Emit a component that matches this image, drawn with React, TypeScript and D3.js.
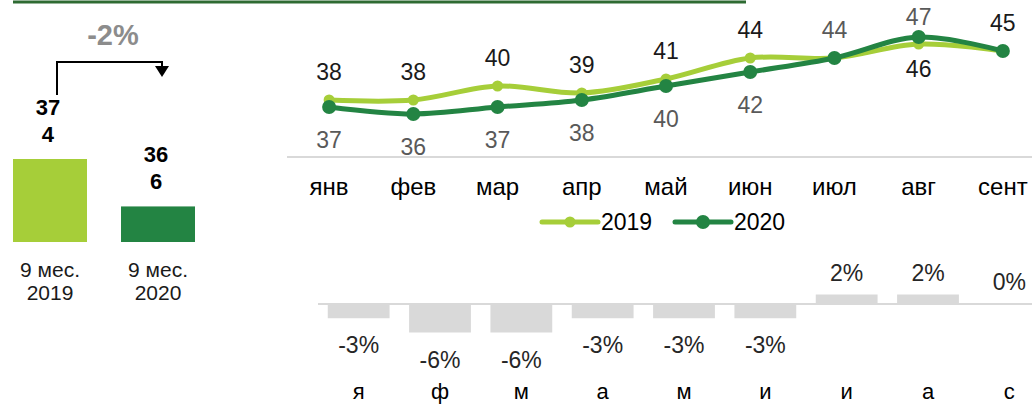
import React from "react";
import * as d3 from "d3";

const months = ["янв", "фев", "мар", "апр", "май", "июн", "июл", "авг", "сент"];
const values2019 = [38, 38, 40, 39, 41, 44, 44, 46, 45];
const values2020 = [37, 36, 37, 38, 40, 42, 44, 47, 45];
const pos2019 = ["above", "above", "above", "above", "above", "above", "none", "below", "above"];
const pos2020 = ["below", "below", "below", "below", "below", "below", "above", "above", "none"];

const changeLetters = ["я", "ф", "м", "а", "м", "и", "и", "а", "с"];
const changeValues = [-3, -6, -6, -3, -3, -3, 2, 2, 0];

const totalLabels = ["9 мес.|2019", "9 мес.|2020"];
const totalValues = [374, 366];
const totalChange = "-2%";

const LIGHT = "#a6ce39";
const DARK = "#238443";
const FONT = "'Liberation Sans', Arial, sans-serif";

export default function App() {
  // line chart scales
  const xLine = d3.scaleBand<string>().domain(months).range([287, 1045]);
  const cx = (m: string) => (xLine(m) as number) + xLine.bandwidth() / 2;
  const yLine = d3.scaleLinear().domain([30, 38]).range([156, 100]);

  const lineGen = d3
    .line<number>()
    .x((_, i) => cx(months[i]))
    .y((v) => yLine(v))
    .curve(d3.curveCatmullRom.alpha(0.5));

  // bottom change chart
  const xBar = d3
    .scaleBand<string>()
    .domain(d3.range(changeValues.length).map(String))
    .range([318, 1050])
    .paddingInner(0.24)
    .paddingOuter(0.12);
  const yBar = d3.scaleLinear().domain([-6, 2]).range([332.5, 294.5]);
  const zeroY = yBar(0);

  // left totals
  const xTot = d3.scaleBand<string>().domain(totalLabels).range([13, 195]).paddingInner(0.315).paddingOuter(0);
  const yTot = d3.scaleLinear().domain([360, 374]).range([242, 159]);

  const labelY = (pos: string, y: number, i: number) => {
    if (pos === "above") return i === 7 ? y - 12 : y - 20;
    return i === 7 ? y + 33 : y + 41;
  };

  return (
    <svg width={1032} height={406} style={{ position: "absolute", left: 0, top: 0 }} fontFamily={FONT}>
      <rect width={1032} height={406} fill="#fff" />
      {/* top rule */}
      <line x1={13} x2={746} y1={2} y2={2} stroke="#2e6b32" strokeWidth={3} />

      {/* left totals */}
      <text x={113} y={45} textAnchor="middle" fontSize={29} fontWeight="bold" fill="#8c8c8c">{totalChange}</text>
      <path d="M57,95 V62 H162 V67" fill="none" stroke="#000" strokeWidth={2} />
      <path d="M155,66 L169,66 L162,77 Z" fill="#000" />
      {totalLabels.map((lab, i) => {
        const x = xTot(lab) as number;
        const w = xTot.bandwidth();
        const top = yTot(totalValues[i]);
        const s = String(totalValues[i]);
        const [l1, l2] = lab.split("|");
        return (
          <g key={lab}>
            <rect x={x} y={top} width={w} height={yTot(360) - top} fill={i === 0 ? LIGHT : DARK} />
            <text x={x + w / 2 - 2} y={top - 44} textAnchor="middle" fontSize={22} fontWeight="bold" fill="#000">{s.slice(0, 2)}</text>
            <text x={x + w / 2 - 2} y={top - 17} textAnchor="middle" fontSize={22} fontWeight="bold" fill="#000">{s.slice(2)}</text>
            <text x={x + w / 2} y={277} textAnchor="middle" fontSize={21} fill="#1a1a1a">{l1}</text>
            <text x={x + w / 2} y={300} textAnchor="middle" fontSize={21} fill="#1a1a1a">{l2}</text>
          </g>
        );
      })}

      {/* line chart */}
      <line x1={287} x2={1032} y1={157} y2={157} stroke="#d9d9d9" strokeWidth={2} />
      <path d={lineGen(values2019) || ""} fill="none" stroke={LIGHT} strokeWidth={5} strokeLinejoin="round" />
      <path d={lineGen(values2020) || ""} fill="none" stroke={DARK} strokeWidth={5} strokeLinejoin="round" />
      {values2019.map((v, i) => (
        <circle key={"a" + i} cx={cx(months[i])} cy={yLine(v)} r={5.5} fill={LIGHT} />
      ))}
      {values2020.map((v, i) => (
        <circle key={"b" + i} cx={cx(months[i])} cy={yLine(v)} r={7} fill={DARK} />
      ))}
      {values2019.map((v, i) =>
        pos2019[i] === "none" ? null : (
          <text key={"la" + i} x={cx(months[i])} y={labelY(pos2019[i], yLine(v), i)} textAnchor="middle" fontSize={23} fill="#1a1a1a">{v}</text>
        )
      )}
      {values2020.map((v, i) =>
        pos2020[i] === "none" ? null : (
          <text key={"lb" + i} x={cx(months[i])} y={labelY(pos2020[i], yLine(v), i)} textAnchor="middle" fontSize={23} fill="#595959">{v}</text>
        )
      )}
      {months.map((m) => (
        <text key={m} x={cx(m)} y={195} textAnchor="middle" fontSize={24} fill="#000">{m}</text>
      ))}

      {/* legend */}
      <line x1={542} x2={598} y1={222} y2={222} stroke={LIGHT} strokeWidth={5} strokeLinecap="round" />
      <circle cx={570} cy={222} r={5.5} fill={LIGHT} />
      <text x={601} y={230} fontSize={23} fill="#000">2019</text>
      <line x1={675} x2={731} y1={222} y2={222} stroke={DARK} strokeWidth={5} strokeLinecap="round" />
      <circle cx={703} cy={222} r={7} fill={DARK} />
      <text x={734} y={230} fontSize={23} fill="#000">2020</text>

      {/* change chart */}
      {changeValues.map((v, i) => {
        const x = xBar(String(i)) as number;
        const w = xBar.bandwidth();
        const y0 = Math.min(yBar(v), zeroY);
        const h = Math.abs(yBar(v) - zeroY);
        const ly = v >= 0 ? yBar(v) - 14 : yBar(v) + 35;
        return (
          <g key={"c" + i}>
            <rect x={x} y={y0} width={w} height={h} fill="#d9d9d9" />
            <text x={x + w / 2} y={ly} textAnchor="middle" fontSize={23} fill="#262626">{`${v}%`}</text>
            <text x={x + w / 2} y={399} textAnchor="middle" fontSize={22} fill="#000">{changeLetters[i]}</text>
          </g>
        );
      })}
      <line x1={318} x2={1032} y1={zeroY} y2={zeroY} stroke="#d9d9d9" strokeWidth={2} />
    </svg>
  );
}
